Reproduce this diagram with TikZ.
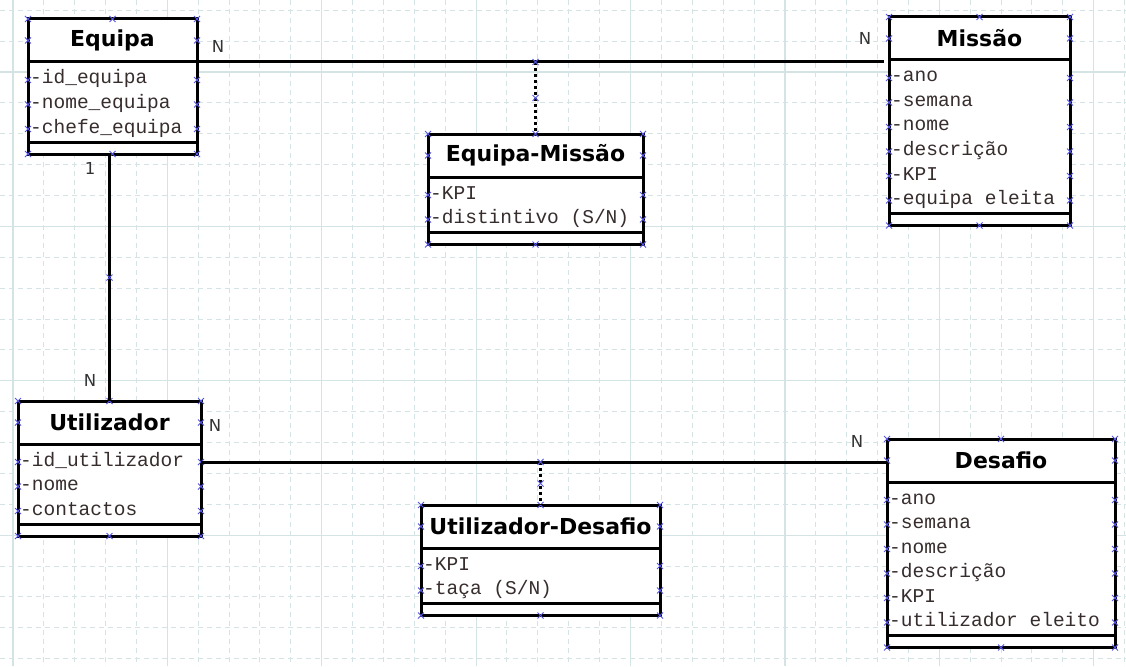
\documentclass[tikz,border=0pt]{standalone}
\usepackage{fontspec}
\usepackage{tikz}
\usetikzlibrary{calc}
\newfontfamily\titlefont{DejaVu Sans}
\newfontfamily\attrfont{Liberation Mono}
\newfontfamily\labelfont{DejaVu Sans}
\definecolor{cGrid}{RGB}{212,228,229}
\definecolor{cHandle}{RGB}{85,85,230}
\definecolor{cAttr}{RGB}{55,45,45}
\tikzset{
	clsbox/.style  ={rectangle, draw=black, line width=3pt, fill=white, outer sep=0pt, inner sep=0pt},
	clsline/.style ={line width=3pt},
	clstitle/.style={font=\titlefont\bfseries\fontsize{22}{26}\selectfont, inner sep=0pt},
	attr/.style    ={font=\attrfont\fontsize{19.5}{23}\selectfont, text=cAttr, inner sep=0pt, anchor=west, text height=12pt, text depth=4pt},
	assoc/.style   ={line width=3pt},
	assocdot/.style={line width=3pt, dash pattern=on 3pt off 3pt},
	mult/.style    ={font=\labelfont\fontsize{16.5}{19}\selectfont, text=black!80, inner sep=0pt},
	% background grid
	gridln/.style  ={draw=cGrid, line width=1pt, dash pattern=on 5pt off 4pt},
	gridmaj/.style ={draw=cGrid, line width=1.2pt},
	% selection handles
	hdl/.pic={\draw[cHandle, line width=1pt] (-3,-3) -- (3,3) (-3,3) -- (3,-3);},
}
% class box: name, x, y, width, title, attributes
\newcommand{\umlclass}[6]{%
	\foreach \a [count=\i] in {#6} {\xdef\nattr{\i}}%
	\pgfmathsetmacro{\attrh}{31+(\nattr-1)*24.5}%
	\pgfmathsetmacro{\boxh}{43+\attrh+12}%
	\node[clsbox, minimum width=#4pt, minimum height=\boxh pt, anchor=north west] (#1) at (#2,#3) {};
	\coordinate (#1-hl) at ($(#1.north west)+(0,43)$);
	\coordinate (#1-el) at ($(#1-hl)+(0,\attrh)$);
	\draw[clsline] (#1-hl) -- (#1-hl -| #1.east);
	\draw[clsline] (#1-el) -- (#1-el -| #1.east);
	\node[clstitle] (#1-t) at ($(#1.north)+(0,21.5)$) {#5};
	\foreach \a [count=\i] in {#6} {
		\coordinate (#1-r\i) at ($(#1-hl)+(0,{18+(\i-1)*24.5})$);
		\node[attr] (#1-a\i) at ($(#1-r\i)+(2,0)$) {\a};
		\pic at (#1-r\i) {hdl};
		\pic at (#1-r\i -| #1.east) {hdl};
	}
	\foreach \p in {north west, north, north east, south west, south, south east} {\pic at (#1.\p) {hdl};}
	\pic at ($(#1.north west)+(0,21.5)$) {hdl};
	\pic at ($(#1.north east)+(0,21.5)$) {hdl};
}
\begin{document}
\begin{tikzpicture}[x=1pt, y=-1pt]
	\useasboundingbox (0,0) rectangle (1126,666);
	\fill[white] (0,0) rectangle (1126,666);
	% grid
	\foreach \k in {0,...,36} {
		\pgfmathsetmacro{\gx}{12.9+\k*30.88}
		\pgfmathtruncatemacro{\gm}{mod(\k,5)}
		\ifnum\gm=0 \draw[gridmaj] (\gx,0) -- (\gx,666); \else \draw[gridln] (\gx,0) -- (\gx,666); \fi
	}
	\foreach \k in {0,...,21} {
		\pgfmathsetmacro{\gy}{10.2+\k*30.88}
		\pgfmathtruncatemacro{\gm}{mod(\k+3,5)}
		\ifnum\gm=0 \draw[gridmaj] (0,\gy) -- (1126,\gy); \else \draw[gridln] (0,\gy) -- (1126,\gy); \fi
	}

	\umlclass{equipa}{28}{19}{169}{Equipa}{-id\_equipa,-nome\_equipa,-chefe\_equipa}
	\umlclass{missao}{889}{17}{181}{Missão}{-ano,-semana,-nome,-descrição,-KPI,-equipa eleita}
	\umlclass{eqmissao}{428}{134}{215}{Equipa-Missão}{-KPI,-distintivo (S/N)}
	\umlclass{utilizador}{18}{401}{183}{Utilizador}{-id\_utilizador,-nome,-contactos}
	\umlclass{utdesafio}{421}{505}{239}{Utilizador-Desafio}{-KPI,-taça (S/N)}
	\umlclass{desafio}{887}{439}{228}{Desafio}{-ano,-semana,-nome,-descrição,-KPI,-utilizador eleito}

	% associations
	\draw[assoc, shorten >=5pt] (equipa-hl -| equipa.east) -- (equipa-hl -| missao.west);
	\coordinate (em-j) at (eqmissao.north |- equipa-hl);
	\draw[assocdot] (em-j) -- (eqmissao.north);
	\pic at (em-j) {hdl};
	\pic at ($(em-j)!0.5!(eqmissao.north)$) {hdl};

	\draw[assoc] (equipa.south -| utilizador.north) -- (utilizador.north);
	\pic at ($(equipa.south -| utilizador.north)!0.5!(utilizador.north)$) {hdl};

	\draw[assoc] (utilizador-r1 -| utilizador.east) -- (utilizador-r1 -| desafio.west);
	\coordinate (ud-j) at (utdesafio.north |- utilizador-r1);
	\draw[assocdot] (ud-j) -- (utdesafio.north);
	\pic at (ud-j) {hdl};
	\pic at ($(ud-j)!0.5!(utdesafio.north)$) {hdl};

	% multiplicities
	\node[mult] (m-eq) at (218,46) {N};
	\node[mult] (m-mi) at (865,38) {N};
	\node[mult] (m-eq1) at (90,168) {1};
	\node[mult] (m-ut1) at (90,380) {N};
	\node[mult] (m-ut2) at (215,425) {N};
	\node[mult] (m-de) at (857,441) {N};
\end{tikzpicture}
\end{document}
